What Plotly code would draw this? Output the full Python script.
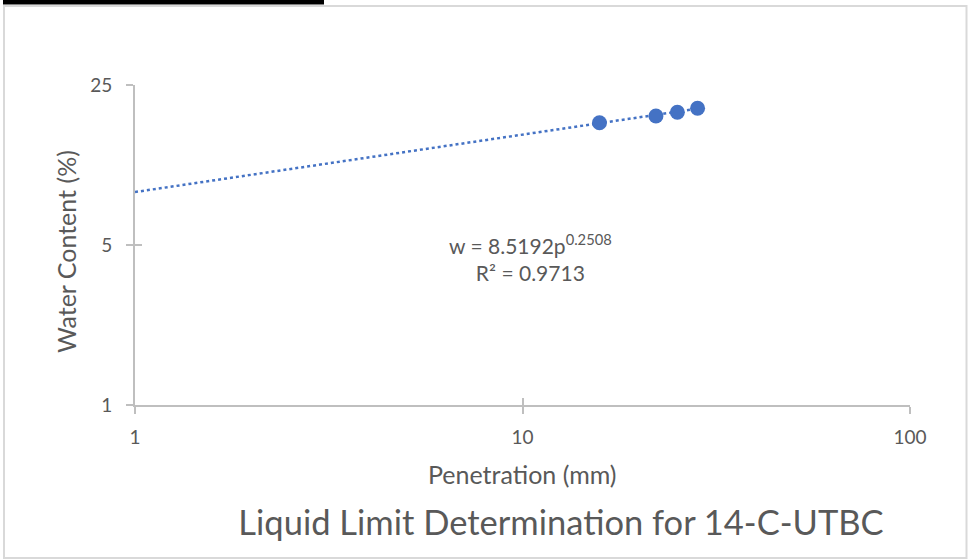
import plotly.graph_objects as go
import numpy as np

# Data
penetration = [15.8, 22.1, 25.1, 28.3]     # mm
water_content = [17.1, 18.3, 19.0, 19.8]   # %

# Power trendline coefficients shown on the chart: w = a * p^b
trend_a = 8.5192
trend_b = 0.2508
r_squared = 0.9713

x_ticks = [1, 10, 100]
y_ticks = [1, 5, 25]

x_trend = np.array([1.0, max(penetration)])
y_trend = trend_a * x_trend ** trend_b

BLUE = "#4472C4"
GRAY_TXT = "#595959"
AXIS = "#BFBFBF"
FONT = "Lato"

W, H = 968, 559
L, R, T, B = 135, 58, 85, 154
pw, ph = W - L - R, H - T - B


def px_x(px):
    return (px - L) / pw


def px_y(py):
    return (H - B - py) / ph


fig = go.Figure()

fig.add_trace(go.Scatter(
    x=x_trend, y=y_trend, mode="lines",
    line=dict(color=BLUE, width=2.5, dash="dot"),
    showlegend=False, hoverinfo="skip"))

fig.add_trace(go.Scatter(
    x=penetration, y=water_content, mode="markers",
    marker=dict(color=BLUE, size=15, line=dict(width=0)),
    showlegend=False))

# empty trace to carry the overlay axes (inner half of cross ticks)
fig.add_trace(go.Scatter(x=[None], y=[None], xaxis="x2", yaxis="y2",
                         mode="markers", showlegend=False, hoverinfo="skip"))

xr = [0, 2]
yr = [0, np.log10(25)]

common_tick = dict(tickcolor=AXIS, tickwidth=1.5, ticklen=7)

fig.update_layout(
    width=W, height=H,
    margin=dict(l=L, r=R, t=T, b=B),
    paper_bgcolor="white", plot_bgcolor="white",
    font=dict(family=FONT, color=GRAY_TXT),
    xaxis=dict(type="log", range=xr, tickvals=x_ticks, ticktext=[str(v) for v in x_ticks],
               showgrid=False, zeroline=False, showline=True, linecolor=AXIS, linewidth=2,
               ticks="outside", tickfont=dict(size=19, color=GRAY_TXT, family=FONT),
               ticklabelstandoff=7, **common_tick),
    yaxis=dict(type="log", range=yr, tickvals=y_ticks, ticktext=[str(v) for v in y_ticks],
               showgrid=False, zeroline=False, showline=True, linecolor=AXIS, linewidth=2,
               ticks="outside", tickfont=dict(size=19, color=GRAY_TXT, family=FONT),
               ticklabelstandoff=10, **common_tick),
    xaxis2=dict(type="log", range=xr, tickvals=x_ticks, overlaying="x", anchor="y2",
                showticklabels=False, showgrid=False, zeroline=False, showline=False,
                ticks="inside", **common_tick),
    yaxis2=dict(type="log", range=yr, tickvals=y_ticks, overlaying="y", anchor="x2",
                showticklabels=False, showgrid=False, zeroline=False, showline=False,
                ticks="inside", **common_tick),
    title=dict(text="Liquid Limit Determination for 14-C-UTBC",
               font=dict(size=34.5, color=GRAY_TXT, family=FONT),
               x=561 / W, xanchor="center", xref="container",
               y=1 - 523 / H, yanchor="middle", yref="container"),
)

# axis titles
fig.add_annotation(text="Penetration (mm)", xref="paper", yref="paper",
                   x=px_x(522), y=px_y(474), xanchor="center", yanchor="middle",
                   showarrow=False, font=dict(size=25, color=GRAY_TXT, family=FONT))
fig.add_annotation(text="Water Content (%)", xref="paper", yref="paper",
                   x=px_x(66), y=px_y(252), xanchor="center", yanchor="middle",
                   textangle=-90, showarrow=False,
                   font=dict(size=25, color=GRAY_TXT, family=FONT))

# trendline equation
fig.add_annotation(text=f"w = {trend_a}p<sup>{trend_b}</sup><br>R² = {r_squared}",
                   xref="paper", yref="paper", x=px_x(530), y=px_y(257),
                   xanchor="center", yanchor="middle", align="center",
                   showarrow=False, font=dict(size=21, color=GRAY_TXT, family=FONT))

# chart-area border and the table edge above it
fig.add_shape(type="rect", xref="paper", yref="paper",
              x0=px_x(4), x1=px_x(966.5), y0=px_y(558), y1=px_y(6),
              line=dict(color="#D9D9D9", width=2), fillcolor="rgba(0,0,0,0)", layer="below")
fig.add_shape(type="rect", xref="paper", yref="paper",
              x0=px_x(3), x1=px_x(324), y0=px_y(4.5), y1=px_y(-1),
              line=dict(width=0), fillcolor="black")

fig.write_html("out.html",
               config={"displayModeBar": False},
               post_script="document.body.style.margin='0px';document.body.style.overflow='hidden';")
